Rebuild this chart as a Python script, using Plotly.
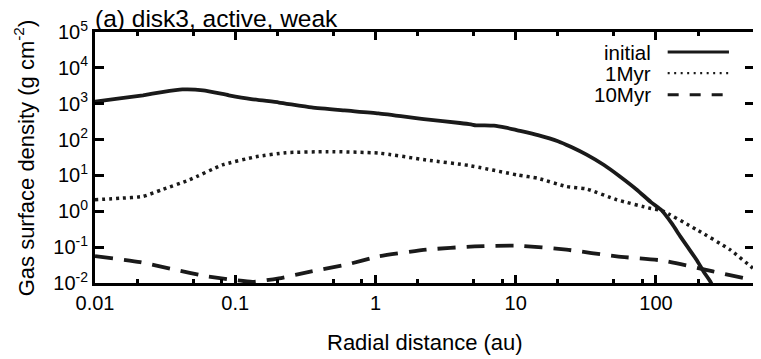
import math
import plotly.graph_objects as go

# ---------------- data ----------------
r_initial = [0.01, 0.015, 0.022, 0.03, 0.042, 0.059, 0.09, 0.13, 0.205, 0.35, 0.6, 1.05,
             2.3, 4.0, 4.8, 5.2, 6.0, 7.0, 8.5, 10.3, 14.4, 20, 24.7, 32, 42.6, 55, 73,
             92, 110, 130, 149, 170, 194, 220, 244, 270]
sigma_initial = [1150, 1400, 1720, 2100, 2500, 2370, 1720, 1350, 1080, 790, 650, 540,
                 365, 290, 265, 250, 250, 245, 215, 181, 133, 90, 63, 38, 19.5, 9.5, 4.0,
                 1.8, 1.05, 0.45, 0.2, 0.095, 0.045, 0.02, 0.011, 0.005]

r_1myr = [0.01, 0.015, 0.022, 0.03, 0.047, 0.081, 0.14, 0.23, 0.46, 1.05, 2.3, 4.6,
          10.3, 14.4, 23, 32, 52.5, 92, 110, 194, 337, 490, 550]
sigma_1myr = [2.1, 2.3, 2.6, 4.0, 7.5, 19.6, 33, 43, 46, 42, 27, 19,
              10.3, 8.3, 4.9, 4.2, 2.1, 1.2, 1.05, 0.31, 0.085, 0.026, 0.018]

r_10myr = [0.01, 0.021, 0.036, 0.062, 0.133, 0.205, 0.35, 0.61, 1.05, 2.3, 5.1, 10.3,
           23, 52.5, 113, 255, 470, 550]
sigma_10myr = [0.056, 0.038, 0.024, 0.0155, 0.0108, 0.0135, 0.021, 0.032, 0.055, 0.085, 0.105, 0.11,
               0.085, 0.055, 0.042, 0.021, 0.0126, 0.0115]

series_names = ["initial", "1Myr", "10Myr"]

x_major = [0.01, 0.1, 1, 10, 100]
x_major_text = ["0.01", "0.1", "1", "10", "100"]
x_minor_bottom = [m * 10 ** k for k in range(-2, 3) for m in (2, 5, 8) if m * 10 ** k <= 500]
x_minor_top = [m * 10 ** k for k in range(-2, 3) for m in (2, 5) if m * 10 ** k <= 500]
y_major = [10 ** k for k in range(-2, 6)]
y_major_text = ["10<sup>%d</sup>" % k for k in range(-2, 6)]

x_range = [0.01, 500]
y_range = [0.01, 1e5]

# ---------------- style ----------------
FONT = "Liberation Sans, Arial, sans-serif"
INK = "#1a1a1a"

fig = go.Figure()
styles = [
    dict(color=INK, width=3.8, dash="solid"),
    dict(color=INK, width=3.5, dash="3px,4px"),
    dict(color=INK, width=3.8, dash="18px,11px"),
]
for (xs, ys), name, st in zip([(r_initial, sigma_initial), (r_1myr, sigma_1myr), (r_10myr, sigma_10myr)],
                              series_names, styles):
    fig.add_trace(go.Scatter(x=xs, y=ys, name=name, mode="lines",
                             line=dict(shape="spline", smoothing=0.5, **st),
                             showlegend=False, hoverinfo="skip"))

# helper trace so the top axis exists
fig.add_trace(go.Scatter(x=[1], y=[1], xaxis="x2", mode="markers",
                         marker=dict(opacity=0), showlegend=False, hoverinfo="skip"))

axis_common = dict(showgrid=False, zeroline=False, tickcolor="black", ticks="inside")
# the page body adds an 8px margin, so the figure is 8px smaller than the window
fig.update_layout(
    width=753, height=351,
    margin=dict(l=87, r=4, t=24, b=76),
    paper_bgcolor="white", plot_bgcolor="white",
    font=dict(family=FONT, color="black", size=20),
    xaxis=dict(type="log", range=[math.log10(v) for v in x_range],
               showline=True, linewidth=3, linecolor="black", mirror=True,
               tickmode="array", tickvals=x_major, ticktext=x_major_text,
               ticklen=8, tickwidth=2.5, tickfont=dict(size=20),
               minor=dict(tickmode="array", tickvals=x_minor_bottom, ticks="inside",
                          ticklen=4, tickwidth=2.5, tickcolor="black", showgrid=False),
               **axis_common),
    xaxis2=dict(type="log", range=[math.log10(v) for v in x_range], overlaying="x",
                anchor="y", side="top", showline=False, showticklabels=False,
                tickmode="array", tickvals=x_major, ticklen=8, tickwidth=2.5,
                minor=dict(tickmode="array", tickvals=x_minor_top, ticks="inside",
                           ticklen=4, tickwidth=2.5, tickcolor="black", showgrid=False),
                **axis_common),
    yaxis=dict(type="log", range=[math.log10(v) for v in y_range],
               showline=True, linewidth=3, linecolor="black", mirror="ticks",
               tickmode="array", tickvals=y_major, ticktext=y_major_text,
               ticklen=9, tickwidth=2.5, tickfont=dict(size=20),
               **axis_common),
)

# titles
fig.add_annotation(text="(a) disk3, active, weak", xref="paper", yref="paper",
                   x=0, y=1, xanchor="left", yanchor="bottom", xshift=-2, yshift=-2,
                   showarrow=False, font=dict(size=24.5, family=FONT))
fig.add_annotation(text="Radial distance (au)", xref="paper", yref="paper",
                   x=0.5, y=-0.238, xanchor="center", yanchor="middle",
                   showarrow=False, font=dict(size=22, family=FONT))
fig.add_annotation(text="Gas surface density (g cm<sup>-2</sup>)", xref="paper", yref="paper",
                   x=-0.108, y=0.5, xanchor="center", yanchor="middle", textangle=-90,
                   showarrow=False, font=dict(size=22, family=FONT))

# manual legend: label on the left, line sample on the right
legend_y = [0.920, 0.836, 0.750]
legend_styles = [
    dict(color=INK, width=3, dash="solid"),
    dict(color=INK, width=2.2, dash="2px,4.5px"),
    dict(color=INK, width=2.8, dash="11px,11px"),
]
for name, ly, st in zip(series_names, legend_y, legend_styles):
    fig.add_annotation(text=name, xref="paper", yref="paper", x=0.847, y=ly,
                       xanchor="right", yanchor="middle", showarrow=False,
                       font=dict(size=20.5, family=FONT))
    fig.add_shape(type="line", xref="paper", yref="paper", x0=0.869, x1=0.962,
                  y0=ly, y1=ly, line=st)

fig.write_html("out.html")
